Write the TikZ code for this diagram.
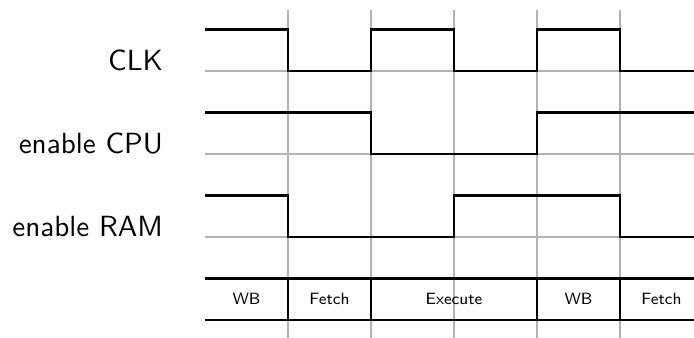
\documentclass[tikz,border=0pt]{standalone}
\begin{document}
\begin{tikzpicture}[griglia/.style={gray!60, line width=0.4pt},
  segnale/.style={black, thick},
  etichetta/.style={anchor=base east, inner sep=0pt, font=\sffamily},
  fase/.style={inner sep=0pt, font=\sffamily\fontsize{5.6}{6}\selectfont}]
\useasboundingbox (-2.47,-0.217) rectangle (5.892,3.855);
% griglia
\foreach \x in {1,...,5}
  \draw[griglia] (\x,-0.3) -- (\x,3.73);
\foreach \y in {1,2,3}
  \draw[griglia] (0,\y) -- (6,\y);
% clock
\node[etichetta] (clk) at (-0.5,3) {CLK};
\draw[segnale] (0,3.5) -- (1,3.5) -- (1,3) -- (2,3) -- (2,3.5) -- (3,3.5) -- (3,3)
  -- (4,3) -- (4,3.5) -- (5,3.5) -- (5,3) -- (6,3);
% enable CPU
\node[etichetta] (cpu) at (-0.5,2) {enable CPU};
\draw[segnale] (0,2.5) -- (2,2.5) -- (2,2) -- (4,2) -- (4,2.5) -- (6,2.5);
% enable RAM
\node[etichetta] (ram) at (-0.5,1) {enable RAM};
\draw[segnale] (0,1.5) -- (1,1.5) -- (1,1) -- (3,1) -- (3,1.5) -- (5,1.5) -- (5,1) -- (6,1);
% fasi
\draw[segnale] (0,0.5) -- (6,0.5);
\draw[segnale] (0,0) -- (6,0);
\foreach \x in {1,2,4,5}
  \draw[segnale] (\x,0) -- (\x,0.5);
\node[fase] (wb1) at (0.5,0.25) {WB};
\node[fase] (fetch1) at (1.5,0.25) {Fetch};
\node[fase] (exec) at (3,0.25) {Execute};
\node[fase] (wb2) at (4.5,0.25) {WB};
\node[fase] (fetch2) at (5.5,0.25) {Fetch};
\end{tikzpicture}
\end{document}
